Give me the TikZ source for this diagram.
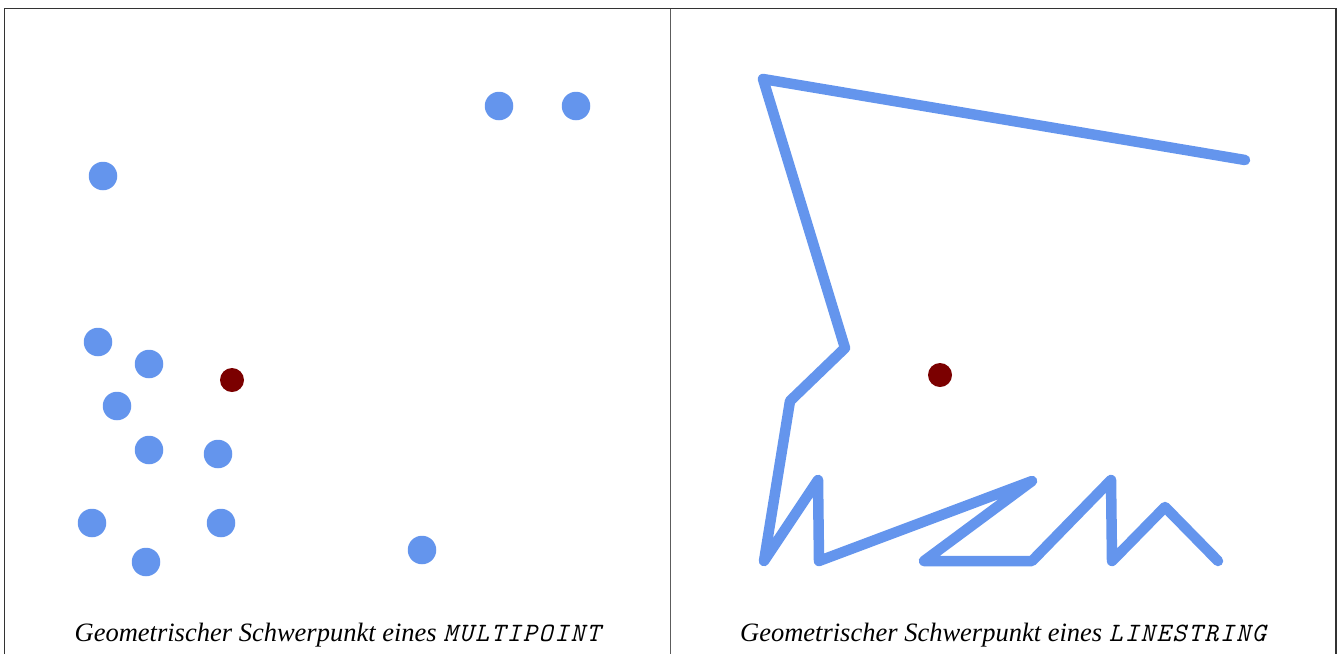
\documentclass[tikz,border=0pt]{standalone}
\usepackage{fontspec}
\setmainfont{Liberation Serif}
\newfontfamily\capmono{Latin Modern Mono}[LetterSpace=7.5]
\definecolor{ptblue}{HTML}{6495ED}
\definecolor{cenred}{HTML}{7B0000}
\definecolor{frame}{HTML}{333333}
\begin{document}
\begin{tikzpicture}[x=1pt,y=-1pt,
  pt/.style={circle,fill=ptblue,inner sep=0pt,minimum size=28.5pt},
  cen/.style={circle,fill=cenred,inner sep=0pt,minimum size=24pt},
  ls/.style={draw=ptblue,line width=10.5pt,line cap=round,line join=round},
  border/.style={draw=frame,line width=1.6pt},
  caption/.style={font=\fontsize{26.5}{30}\selectfont\itshape,inner sep=0pt,anchor=base}]
\useasboundingbox (0,0) rectangle (1340,654);
% frame
\draw[border] (4.5,654) -- (4.5,8.5) -- (1336,8.5) -- (1336,654);
\draw[border,draw=frame!80] (670.5,8.5) -- (670.5,654);
% multipoint
\node[pt] (p1) at (499,106) {};
\node[pt] (p2) at (576,106) {};
\node[pt] (p3) at (103,176) {};
\node[pt] (p4) at (98,342) {};
\node[pt] (p5) at (149,364) {};
\node[pt] (p6) at (117,406) {};
\node[pt] (p7) at (149,450) {};
\node[pt] (p8) at (218,454) {};
\node[pt] (p9) at (92,523) {};
\node[pt] (p10) at (221,523) {};
\node[pt] (p11) at (146,562) {};
\node[pt] (p12) at (422,550) {};
\node[cen] (c1) at (232,380) {};
% linestring
\coordinate (l1) at (1245,160);
\coordinate (l2) at (763,79);
\coordinate (l3) at (845,348);
\coordinate (l4) at (790,401);
\coordinate (l5) at (764,561);
\coordinate (l6) at (818,480);
\coordinate (l7) at (819,561);
\coordinate (l8) at (1032,481);
\coordinate (l9) at (924,561);
\coordinate (l10) at (1032,561);
\coordinate (l11) at (1111,480);
\coordinate (l12) at (1112,561);
\coordinate (l13) at (1165,507);
\coordinate (l14) at (1218,561);
\draw[ls] (l1) -- (l2) -- (l3) -- (l4) -- (l5) -- (l6) -- (l7) -- (l8) -- (l9) -- (l10) -- (l11) -- (l12) -- (l13) -- (l14);
\node[cen] (c2) at (940,375) {};
% captions
\node[caption] (t1) at (337.5,641) {Geometrischer Schwerpunkt eines {\capmono MULTIPOINT}};
\node[caption] (t2) at (1003,641) {Geometrischer Schwerpunkt eines {\capmono LINESTRING}};
\end{tikzpicture}
\end{document}
